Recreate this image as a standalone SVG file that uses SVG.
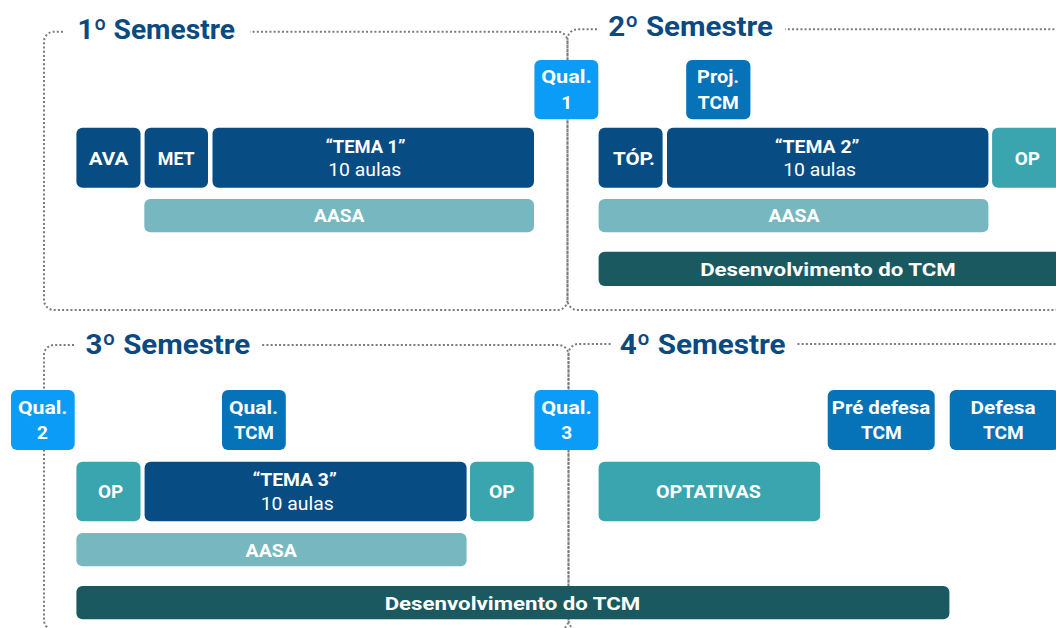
<svg xmlns="http://www.w3.org/2000/svg" width="1056" height="628" viewBox="0 0 1056 628">
<style>
.frame{fill:none;stroke:#7b7b7b;stroke-width:2;stroke-dasharray:2 2.2}
.title{font-family:Roboto,"Open Sans",sans-serif;font-weight:700;font-size:28px;fill:#0A4A80}
.t{font-family:Roboto,"Open Sans",sans-serif;font-weight:700;font-size:19px;fill:#ffffff;text-anchor:middle}
.r{font-family:Roboto,"Open Sans",sans-serif;font-weight:400;font-size:19px;fill:#ffffff;text-anchor:middle}
.dk{fill:#074C83}
.ql{fill:#0A9CF6}
.md{fill:#0672B8}
.op{fill:#3AA4AF}
.aa{fill:#77B8C0}
.dv{fill:#1B5960}
</style>
<rect width="1056" height="628" fill="#ffffff"/>
<g id="frames">
<g id="sem1">
<path class="frame" d="M63,31.7 H54 A10,10 0 0 0 44,41.7 V300 A10,10 0 0 0 54,310 H557.5 A10,10 0 0 0 567.5,300 V41.7 A10,10 0 0 0 557.5,31.7 H250"/>
<text class="title" x="77.5" y="39.3" textLength="157.5" lengthAdjust="spacingAndGlyphs">1º Semestre</text>
</g>
<g id="sem2">
<path class="frame" d="M597,29.3 H577.5 A10,10 0 0 0 567.5,39.3 V300 A10,10 0 0 0 577.5,310 H1054 A10,10 0 0 0 1064,300 V39.3 A10,10 0 0 0 1054,29.3 H785"/>
<text class="title" x="608.2" y="36" textLength="164.8" lengthAdjust="spacingAndGlyphs">2º Semestre</text>
</g>
<g id="sem3">
<path class="frame" d="M74,345 H54 A10,10 0 0 0 44,355 V620 A10,10 0 0 0 54,630 H558.5 A10,10 0 0 0 568.5,620 V355 A10,10 0 0 0 558.5,345 H262"/>
<text class="title" x="85.4" y="354" textLength="164.9" lengthAdjust="spacingAndGlyphs">3º Semestre</text>
</g>
<g id="sem4">
<path class="frame" d="M610.6,344 H578.5 A10,10 0 0 0 568.5,354 V620 A10,10 0 0 0 578.5,630 H1054 A10,10 0 0 0 1064,620 V354 A10,10 0 0 0 1054,344 H796"/>
<text class="title" x="619.8" y="354" textLength="165.8" lengthAdjust="spacingAndGlyphs">4º Semestre</text>
</g>
</g>
<g id="connectors"></g>
<g id="nodes">
<g id="ava"><rect class="dk" x="76.4" y="127.7" width="64.1" height="60" rx="6"/><text class="t" x="108.5" y="165" textLength="39.6" lengthAdjust="spacingAndGlyphs">AVA</text></g>
<g id="met"><rect class="dk" x="144.6" y="127.7" width="63.4" height="60" rx="6"/><text class="t" x="176.2" y="165" textLength="36.9" lengthAdjust="spacingAndGlyphs">MET</text></g>
<g id="tema1"><rect class="dk" x="212.5" y="127.7" width="321.5" height="60" rx="6"/><text class="t" x="365.5" y="152.5" textLength="80.2" lengthAdjust="spacingAndGlyphs">“TEMA 1”</text><text class="r" x="364.7" y="175.7" textLength="73" lengthAdjust="spacingAndGlyphs">10 aulas</text></g>
<g id="aasa1"><rect class="aa" x="144.3" y="199" width="389.7" height="33.3" rx="6"/><text class="t" x="339.2" y="222.3" textLength="50.3" lengthAdjust="spacingAndGlyphs">AASA</text></g>
<g id="qual1"><rect class="ql" x="534.4" y="60" width="63.9" height="59.3" rx="6"/><text class="t" x="566.5" y="82.7" textLength="50.6" lengthAdjust="spacingAndGlyphs">Qual.</text><text class="t" x="566.7" y="109">1</text></g>
<g id="projtcm"><rect class="md" x="686.2" y="60" width="64.2" height="59.3" rx="6"/><text class="t" x="718.1" y="82.7" textLength="42" lengthAdjust="spacingAndGlyphs">Proj.</text><text class="t" x="718.3" y="109" textLength="41" lengthAdjust="spacingAndGlyphs">TCM</text></g>
<g id="top"><rect class="dk" x="598.6" y="127.7" width="64" height="60" rx="6"/><text class="t" x="634" y="165" textLength="42" lengthAdjust="spacingAndGlyphs">TÓP.</text></g>
<g id="tema2"><rect class="dk" x="667" y="127.7" width="321.4" height="60" rx="6"/><text class="t" x="817.1" y="152.5" textLength="84.8" lengthAdjust="spacingAndGlyphs">“TEMA 2”</text><text class="r" x="819.6" y="175.7" textLength="72.8" lengthAdjust="spacingAndGlyphs">10 aulas</text></g>
<g id="op2"><rect class="op" x="992.1" y="127.7" width="70" height="60" rx="6"/><text class="t" x="1027.4" y="165" textLength="25.3" lengthAdjust="spacingAndGlyphs">OP</text></g>
<g id="aasa2"><rect class="aa" x="598.6" y="199" width="389.8" height="33.3" rx="6"/><text class="t" x="794" y="222.3" textLength="51" lengthAdjust="spacingAndGlyphs">AASA</text></g>
<g id="dev2"><rect class="dv" x="598.6" y="251.7" width="465" height="34.3" rx="6"/><text class="t" x="828" y="276" textLength="255.7" lengthAdjust="spacingAndGlyphs">Desenvolvimento do TCM</text></g>
<g id="qual2"><rect class="ql" x="11" y="390" width="63.7" height="60" rx="6"/><text class="t" x="42.7" y="414.3" textLength="49.6" lengthAdjust="spacingAndGlyphs">Qual.</text><text class="t" x="42.5" y="439.3">2</text></g>
<g id="qualtcm"><rect class="md" x="222" y="390" width="63.8" height="60" rx="6"/><text class="t" x="253.6" y="414.3" textLength="49.2" lengthAdjust="spacingAndGlyphs">Qual.</text><text class="t" x="254" y="439.3" textLength="40" lengthAdjust="spacingAndGlyphs">TCM</text></g>
<g id="op3a"><rect class="op" x="76.4" y="461.7" width="64.1" height="59.6" rx="6"/><text class="t" x="110.5" y="498.3" textLength="25.2" lengthAdjust="spacingAndGlyphs">OP</text></g>
<g id="tema3"><rect class="dk" x="144.6" y="461.7" width="322" height="59.6" rx="6"/><text class="t" x="294.6" y="486.3" textLength="84.4" lengthAdjust="spacingAndGlyphs">“TEMA 3”</text><text class="r" x="297.2" y="509.5" textLength="73" lengthAdjust="spacingAndGlyphs">10 aulas</text></g>
<g id="op3b"><rect class="op" x="470" y="461.7" width="63.7" height="59.6" rx="6"/><text class="t" x="501.9" y="498.3" textLength="25.8" lengthAdjust="spacingAndGlyphs">OP</text></g>
<g id="aasa3"><rect class="aa" x="76.4" y="533" width="390.2" height="33.3" rx="6"/><text class="t" x="271.2" y="556.7" textLength="51.3" lengthAdjust="spacingAndGlyphs">AASA</text></g>
<g id="dev3"><rect class="dv" x="76.4" y="586" width="873" height="33.3" rx="6"/><text class="t" x="512.5" y="610" textLength="255.7" lengthAdjust="spacingAndGlyphs">Desenvolvimento do TCM</text></g>
<g id="qual3"><rect class="ql" x="534.4" y="390" width="63.9" height="60" rx="6"/><text class="t" x="566.5" y="414.3" textLength="50.6" lengthAdjust="spacingAndGlyphs">Qual.</text><text class="t" x="566.6" y="439.3">3</text></g>
<g id="predefesa"><rect class="md" x="827.7" y="390" width="107" height="60" rx="6"/><text class="t" x="881" y="414.3" textLength="98.5" lengthAdjust="spacingAndGlyphs">Pré defesa</text><text class="t" x="881.4" y="439.3" textLength="41" lengthAdjust="spacingAndGlyphs">TCM</text></g>
<g id="defesa"><rect class="md" x="949.7" y="390" width="110" height="60" rx="6"/><text class="t" x="1003.1" y="414.3" textLength="65" lengthAdjust="spacingAndGlyphs">Defesa</text><text class="t" x="1003.3" y="439.3" textLength="40.7" lengthAdjust="spacingAndGlyphs">TCM</text></g>
<g id="optativas"><rect class="op" x="598.6" y="461.7" width="221.6" height="59.6" rx="6"/><text class="t" x="708.4" y="498.3" textLength="104.7" lengthAdjust="spacingAndGlyphs">OPTATIVAS</text></g>
</g>
</svg>
